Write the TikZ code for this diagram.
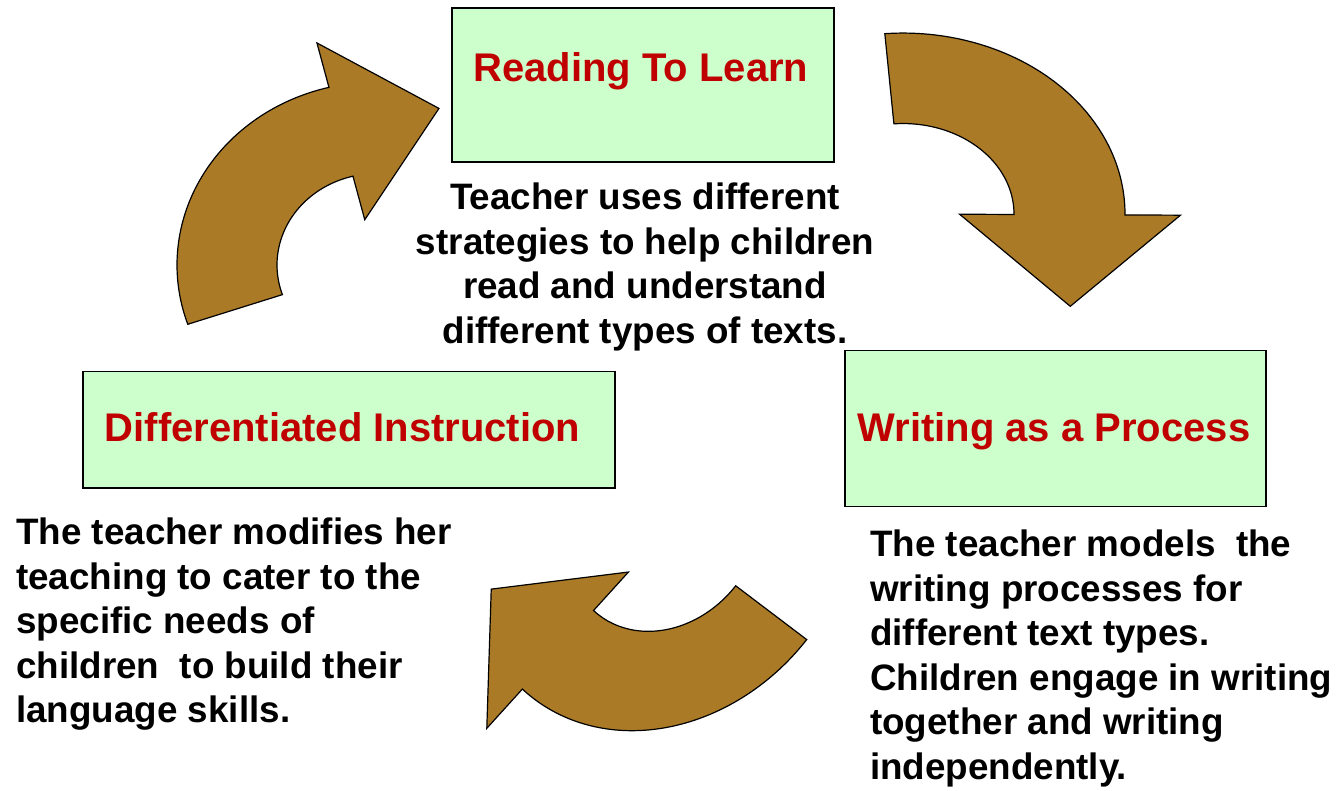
\documentclass[tikz,border=0pt]{standalone}
\usepackage{fontspec}
\setmainfont{Liberation Sans}
\definecolor{boxgreen}{RGB}{204,255,204}
\definecolor{titlered}{RGB}{192,0,0}
\definecolor{arrowbrown}{RGB}{170,122,38}

\tikzset{
  box/.style={draw=black, line width=1.5pt, fill=boxgreen, inner sep=0pt, anchor=north west},
  title/.style={text=titlered, font=\fontsize{40}{48}\selectfont\bfseries, inner sep=0pt, anchor=base},
  body/.style={font=\fontsize{36.8}{44.5}\selectfont\bfseries, inner sep=0pt},
  turn/.style={fill=arrowbrown, draw=black, line width=1.2pt}
}

% bent block arrow, #1 = angle where the tail starts
\newcommand{\turnarrow}[1]{%
  \filldraw[turn] (#1:1) arc[start angle=#1, delta angle=95, radius=1]
    -- (#1+95:1.25) -- (#1+128.8:0.91) -- (#1+95:0.255) -- (#1+95:0.5)
    arc[start angle=#1+95, delta angle=-95, radius=0.5] -- cycle;}

\begin{document}
\begin{tikzpicture}[x=1pt, y=-1pt]
  \useasboundingbox (0,0) rectangle (1339,791);

  % the three boxes
  \node[box, minimum width=382pt, minimum height=154pt] (rtlbox) at (451,7.5) {};
  \node[box, minimum width=532pt, minimum height=116.5pt] (dibox) at (82.3,370.7) {};
  \node[box, minimum width=421pt, minimum height=155.5pt] (wapbox) at (844,350) {};

  \node[title] (rtl) at (641,81.7) {Reading To Learn};
  \node[title] (di) at (342.5,441.7) {Differentiated Instruction};
  \node[title] (wap) at (1054,441.7) {Writing as a Process};

  % notes under the boxes
  \node[body, align=center, anchor=north] (rtlnote) at (645,183)
    {Teacher uses different\\strategies to help children\\read and understand\\different types of texts.};
  \node[body, align=left, anchor=north west] (dinote) at (16,518)
    {The teacher modifies her\\teaching to cater to the\\specific needs of\\children\ \ to build their\\language skills.};
  \node[body, align=left, anchor=north west] (wapnote) at (870,529.7)
    {The teacher models\ \ the\\writing processes for\\different text types.\\Children engage in writing\\together and writing\\independently.};

  % arrows
  \begin{scope}[shift={(377,265)}, scale=200, yscale=0.915]
    \turnarrow{161.1}
  \end{scope}
  \begin{scope}[shift={(903,214)}, scale=222, yscale=0.815]
    \turnarrow{265.3}
  \end{scope}
  \begin{scope}[shift={(664.7,532)}, rotate=50, scale=212, yscale=0.84]
    \turnarrow{87.6}
  \end{scope}
\end{tikzpicture}
\end{document}
